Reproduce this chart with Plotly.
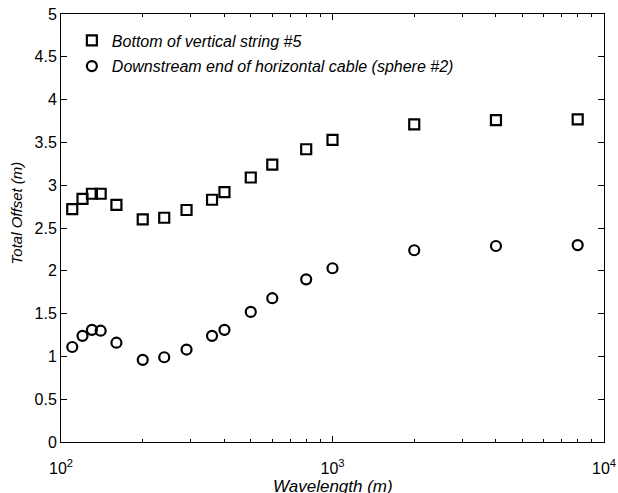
import plotly.graph_objects as go

wavelength = [110, 120, 130, 140, 160, 200, 240, 290, 360, 400, 500, 600, 800, 1000, 2000, 4000, 8000]
bottom_string5 = [2.72, 2.84, 2.90, 2.90, 2.77, 2.60, 2.62, 2.71, 2.83, 2.92, 3.09, 3.24, 3.42, 3.53, 3.71, 3.76, 3.77]
downstream_sphere2 = [1.11, 1.24, 1.31, 1.30, 1.16, 0.96, 0.99, 1.08, 1.24, 1.31, 1.52, 1.68, 1.90, 2.03, 2.24, 2.29, 2.30]

x_major = [100, 1000, 10000]
x_major_text = ["10<sup>2</sup>", "10<sup>3</sup>", "10<sup>4</sup>"]
x_minor = [m * d for d in (100, 1000) for m in range(2, 10)]
y_ticks = [0, 0.5, 1, 1.5, 2, 2.5, 3, 3.5, 4, 4.5, 5]
y_ticktext = ["0", "0.5", "1", "1.5", "2", "2.5", "3", "3.5", "4", "4.5", "5"]

font = "Liberation Sans, Arial, Helvetica, sans-serif"

fig = go.Figure()
fig.add_trace(go.Scatter(
    x=wavelength, y=bottom_string5, mode="markers",
    name="<i>Bottom of vertical string #5</i>", legendgroup="a",
    marker=dict(symbol="square-open", size=10, color="black", line=dict(width=2.2, color="black")),
))
fig.add_trace(go.Scatter(
    x=wavelength, y=downstream_sphere2, mode="markers",
    name="<i>Downstream end of horizontal cable (sphere #2)</i>", legendgroup="b",
    marker=dict(symbol="circle-open", size=10, color="black", line=dict(width=2.2, color="black")),
))

fig.update_layout(
    width=618, height=493,
    margin=dict(l=61, r=14, t=14, b=51),
    paper_bgcolor="white", plot_bgcolor="white",
    font=dict(family=font, size=16, color="black"),
    showlegend=True,
    legend=dict(x=0.02, y=0.978, xanchor="left", yanchor="top",
                bgcolor="rgba(0,0,0,0)", borderwidth=0,
                font=dict(size=16, color="black"), tracegroupgap=2, itemwidth=30),
    xaxis=dict(
        type="log", range=[2, 4],
        tickvals=x_major, ticktext=x_major_text,
        ticks="inside", ticklen=6, tickwidth=1, tickcolor="black",
        showline=True, linecolor="black", linewidth=1, mirror="ticks",
        showgrid=False, zeroline=False, automargin=False,
        minor=dict(tickvals=x_minor, ticks="inside", ticklen=3, tickcolor="black", showgrid=False),
        tickfont=dict(size=16, color="black"), ticklabelstandoff=12,
    ),
    yaxis=dict(
        range=[0, 5], tickvals=y_ticks, ticktext=y_ticktext,
        ticks="inside", ticklen=6, tickwidth=1, tickcolor="black",
        showline=True, linecolor="black", linewidth=1, mirror="ticks",
        showgrid=False, zeroline=False, automargin=False,
        tickfont=dict(size=16, color="black"),
    ),
    annotations=[
        dict(
            text="<i>Total Offset (m)</i>", textangle=-90,
            xref="paper", yref="paper", x=-0.082, y=0.535,
            xanchor="center", yanchor="middle", showarrow=False,
            font=dict(size=15, color="black", family=font),
        ),
        dict(
            text="<i>Wavelength (m)</i>",
            xref="paper", yref="paper", x=0.5, y=-0.077,
            xanchor="center", yanchor="top", showarrow=False,
            font=dict(size=17, color="black", family=font),
        ),
    ],
)

fig.write_html("out.html")
